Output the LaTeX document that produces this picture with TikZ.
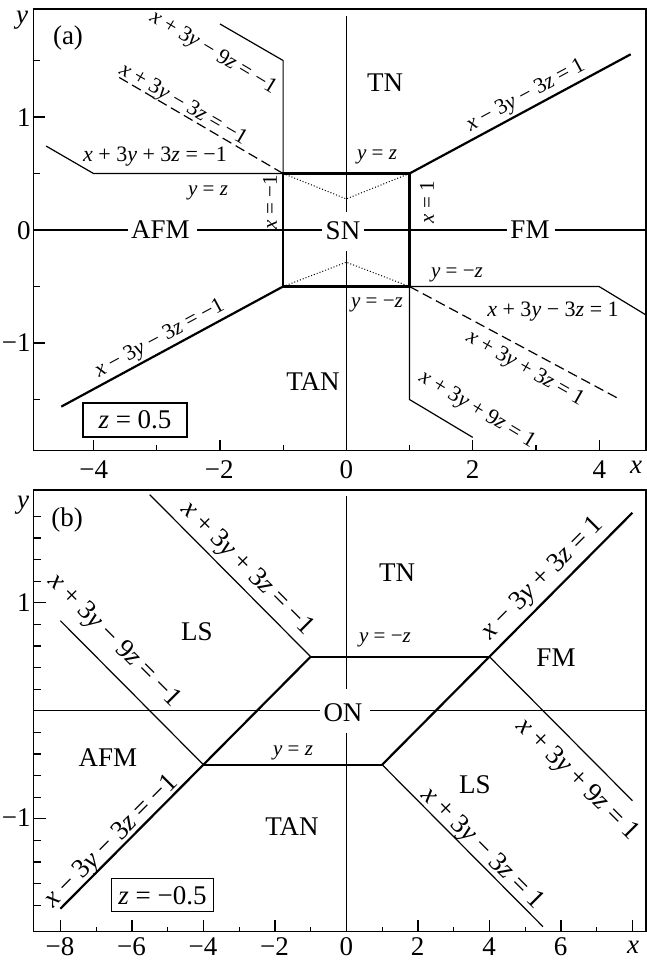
\documentclass[tikz,border=0pt]{standalone}
\usepackage{fontspec}
\setmainfont{Liberation Serif}
\newcommand{\vi}[1]{\textit{#1}}
\begin{document}
\begin{tikzpicture}[x=0.5pt,y=-0.5pt,
  thinln/.style={line width=0.6pt},
  thickln/.style={line width=1.1pt},
  dashln/.style={line width=0.6pt, dash pattern=on 5pt off 2.5pt},
  dotln/.style={line width=0.5pt, dash pattern=on 0.5pt off 1pt},
  framebox/.style={line width=0.6pt},
  region/.style={font=\fontsize{13.5}{16}\selectfont, inner sep=0pt},
  ticklab/.style={font=\fontsize{13.5}{16}\selectfont, inner sep=0pt},
  eqa/.style={font=\fontsize{11}{13}\selectfont, inner sep=0pt},
  eqb/.style={font=\fontsize{13.5}{16}\selectfont, inner sep=0pt},
  eqs/.style={font=\fontsize{10.5}{12}\selectfont, inner sep=0pt},
  zbox/.style={draw, line width=0.6pt, font=\fontsize{13.5}{16}\selectfont, inner sep=0pt},
]
\useasboundingbox (0,0) rectangle (647,960);

% ---------- frames ----------
\draw[framebox] (33.5,9) rectangle (646,450.7);
\draw[framebox] (33.5,490) rectangle (646,931.7);

% ---------- panel (a): labels ----------
\node[region] (la) at (68,38) {(a)};
\node[region] (tna) at (385,83) {TN};
\node[region] (afma) at (160.5,230) {AFM};
\node[region] (sna) at (343,231) {SN};
\node[region] (fma) at (530,230) {FM};
\node[region] (tana) at (313,382) {TAN};
\node[zbox, minimum width=52pt, minimum height=17pt] (za) at (135,420) {\vi{z} = 0.5};

\node[eqa, rotate=28.3] (ea1) at (526,96) {\vi{x} − 3\vi{y} − 3\vi{z} = 1};
\node[eqs] (ea2) at (377,157) {\vi{y} = \vi{z}};
\node[eqs, rotate=90] (ea3) at (427,202) {\vi{x} = 1};
\node[eqs, rotate=90] (ea4) at (270,202) {\vi{x} = −1};
\node[eqs] (ea5) at (208,193) {\vi{y} = \vi{z}};
\node[eqa] (ea6) at (155,157) {\vi{x} + 3\vi{y} + 3\vi{z} = −1};
\node[eqa, rotate=-30] (ea7) at (183,105) {\vi{x} + 3\vi{y} − 3\vi{z} = −1};
\node[eqa, rotate=-31] (ea8) at (213,53) {\vi{x} + 3\vi{y} − 9\vi{z} = −1};
\node[eqs] (ea9) at (457,275) {\vi{y} = −\vi{z}};
\node[eqs] (ea10) at (377,305) {\vi{y} = −\vi{z}};
\node[eqa] (ea11) at (553,312) {\vi{x} + 3\vi{y} − 3\vi{z} = 1};
\node[eqa, rotate=-29.5] (ea12) at (525,369) {\vi{x} + 3\vi{y} + 3\vi{z} = 1};
\node[eqa, rotate=-31] (ea13) at (477,410) {\vi{x} + 3\vi{y} + 9\vi{z} = 1};
\node[eqa, rotate=28.3] (ea14) at (160,339) {\vi{x} − 3\vi{y} − 3\vi{z} = −1};

% axis labels (a)
\node[ticklab] (ya) at (22,20) {\vi{y}};
\node[ticklab] (xa) at (636,467) {\vi{x}};
\node[ticklab, anchor=east] (yla1) at (31,118) {1};
\node[ticklab, anchor=east] (yla0) at (31,231) {0};
\node[ticklab, anchor=east] (ylam) at (31,343) {−1};
\node[ticklab] (xla1) at (93.7,470) {−4};
\node[ticklab] (xla2) at (219.3,470) {−2};
\node[ticklab] (xla3) at (346.3,470) {0};
\node[ticklab] (xla4) at (472.7,470) {2};
\node[ticklab] (xla5) at (599.3,470) {4};

% ---------- panel (a): data ----------
\begin{scope}[shift={(346.3,230)}, x=31.6pt, y=56.5pt]
  \foreach \t in {-4,-2,0,2,4} \draw[thinln] (\t,-1.952) -- ++(0pt,5.5pt);
  \foreach \t in {-3,-1,1,3} \draw[thinln] (\t,-1.952) -- ++(0pt,3pt);
  \foreach \t in {-1,0,1} \draw[thinln] (-4.949,\t) -- ++(5.5pt,0pt);
  \foreach \t in {-1.5,-0.5,0.5,1.5} \draw[thinln] (-4.949,\t) -- ++(3.25pt,0pt);

  \coordinate (A1) at (-1,0.5);
  \coordinate (A2) at (1,0.5);
  \coordinate (A3) at (1,-0.5);
  \coordinate (A4) at (-1,-0.5);
  \coordinate (dTop) at (0,0.275);
  \coordinate (dBot) at (0,-0.285);

  % axes through origin
  \draw[thinln] (0,1.894) -- (0,0.162);
  \draw[thinln] (0,-0.19) -- (0,-1.952);
  \draw[thinln] (-4.949,0) -- (-3.454,0);
  \draw[thinln] (-2.362,0) -- (-0.389,0);
  \draw[thinln] (0.285,0) -- (2.543,0);
  \draw[thinln] (3.302,0) -- (4.742,0);

  % dotted
  \draw[dotln] (A1) -- (dTop) -- (A2);
  \draw[dotln] (A4) -- (dBot) -- (A3);

  % thin boundaries
  \draw[thinln] (A1) -- (-4,0.5) -- (-4.75,0.743);
  \draw[thinln] (A1) -- (-1,1.5) -- (-1.998,1.823);
  \draw[thinln] (A3) -- (1,-1.5) -- (2,-1.835);
  \draw[thinln] (A3) -- (4,-0.5) -- (4.742,-0.752);

  % dashed
  \draw[dashln] (A1) -- (-3.66,1.372);
  \draw[dashln] (A3) -- (4.30,-1.49);

  % thick
  \draw[thickln] (A1) -- (A2) -- (A3) -- (A4) -- cycle;
  \draw[thickln] (A2) -- (4.5,1.555);
  \draw[thickln] (A4) -- (-4.51,-1.563);
\end{scope}

% ---------- panel (b): labels ----------
\node[region] (lb) at (67,520) {(b)};
\node[region] (tnb) at (397,573) {TN};
\node[region] (fmb) at (556,658) {FM};
\node[region] (ls1) at (197,632) {LS};
\node[region] (onb) at (343,713) {ON};
\node[region] (afmb) at (108,758) {AFM};
\node[region] (tanb) at (292,827) {TAN};
\node[region] (ls2) at (475,785) {LS};
\node[zbox, minimum width=51pt, minimum height=16.5pt] (zb) at (162.5,895.3) {\vi{z} = −0.5};

\node[eqb, rotate=-45] (eb1) at (247,569) {\vi{x} + 3\vi{y} + 3\vi{z} = −1};
\node[eqb, rotate=-45] (eb2) at (114,641) {\vi{x} + 3\vi{y} − 9\vi{z} = −1};
\node[eqb, rotate=45] (eb3) at (543,579) {\vi{x} − 3\vi{y} + 3\vi{z} = 1};
\node[eqb, rotate=45] (eb4) at (112,842) {\vi{x} − 3\vi{y} − 3\vi{z} = −1};
\node[eqb, rotate=-45] (eb5) at (577,780) {\vi{x} + 3\vi{y} + 9\vi{z} = 1};
\node[eqb, rotate=-45] (eb6) at (482,849) {\vi{x} + 3\vi{y} − 3\vi{z} = 1};
\node[eqs] (eb7) at (385,640) {\vi{y} = −\vi{z}};
\node[eqs] (eb8) at (293,753) {\vi{y} = \vi{z}};

% axis labels (b)
\node[ticklab] (yb) at (23,505) {\vi{y}};
\node[ticklab] (xb) at (633,947) {\vi{x}};
\node[ticklab, anchor=east] (ylb1) at (31,603) {1};
\node[ticklab, anchor=east] (ylbm) at (31,818) {−1};
\node[ticklab] (xlb1) at (60,947) {−8};
\node[ticklab] (xlb2) at (131.5,947) {−6};
\node[ticklab] (xlb3) at (203,947) {−4};
\node[ticklab] (xlb4) at (274.5,947) {−2};
\node[ticklab] (xlb5) at (346.4,947) {0};
\node[ticklab] (xlb6) at (417.5,947) {2};
\node[ticklab] (xlb7) at (489,947) {4};
\node[ticklab] (xlb8) at (560.5,947) {6};

% ---------- panel (b): data ----------
\begin{scope}[shift={(346.4,710.7)}, x=17.875pt, y=54pt]
  \foreach \t in {-8,-6,...,8} \draw[thinln] (\t,-2.046) -- ++(0pt,6pt);
  \foreach \t in {-7,-5,...,7} \draw[thinln] (\t,-2.046) -- ++(0pt,2.5pt);
  \foreach \t in {-1,0,1} \draw[thinln] (-8.751,\t) -- ++(6pt,0pt);
  \foreach \t in {-1.8,-1.6,-1.4,-1.2,-0.8,-0.6,-0.4,-0.2,0.2,0.4,0.6,0.8,1.2,1.4,1.6,1.8}
    \draw[thinln] (-8.751,\t) -- ++(3.5pt,0pt);

  \coordinate (B1) at (-1,0.5);
  \coordinate (B2) at (4,0.5);
  \coordinate (B3) at (1,-0.5);
  \coordinate (B4) at (-4,-0.5);

  % axes
  \draw[thinln] (0,1.988) -- (0,0.2);
  \draw[thinln] (0,-0.206) -- (0,-2.046);
  \draw[thinln] (-8.751,0) -- (-0.727,0);
  \draw[thinln] (0.671,0) -- (8.38,0);

  % thin boundaries
  \draw[thinln] (-5.5,2.0) -- (B1);
  \draw[thinln] (-8,0.833) -- (B4);
  \draw[thinln] (B2) -- (8,-0.833);
  \draw[thinln] (B3) -- (5.5,-2.0);

  % thick
  \draw[thickln] (B1) -- (B2);
  \draw[thickln] (B4) -- (B3);
  \draw[thickln] (-8,-1.833) -- (B1);
  \draw[thickln] (B3) -- (8,1.833);
\end{scope}
\end{tikzpicture}
\end{document}
